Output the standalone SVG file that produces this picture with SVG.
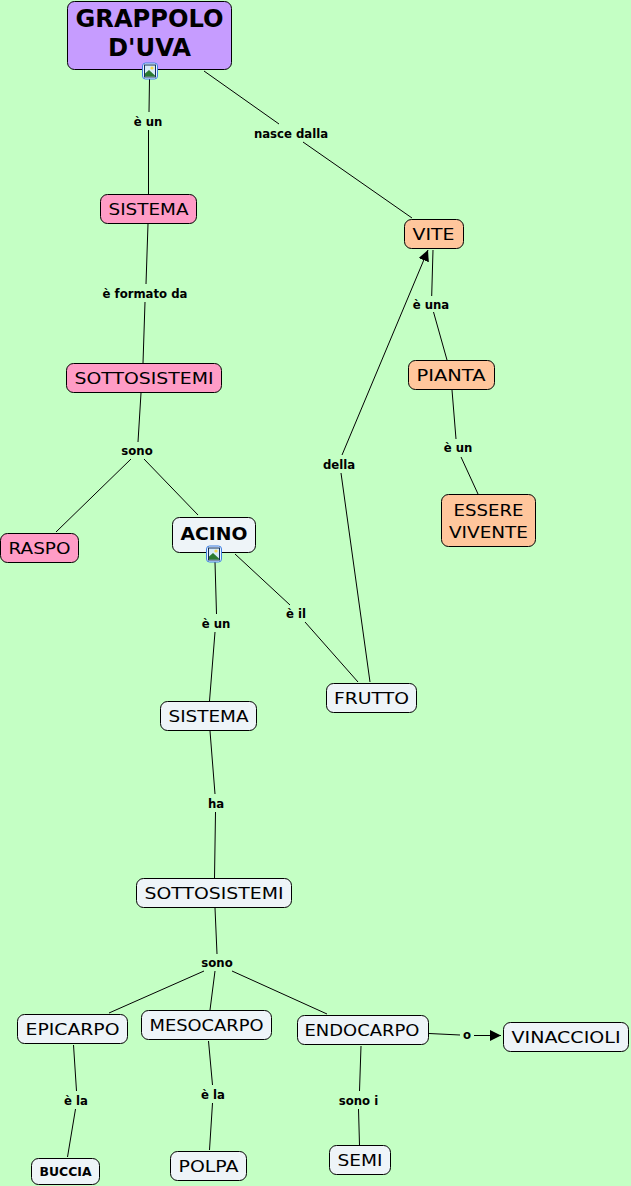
<svg xmlns="http://www.w3.org/2000/svg" width="631" height="1186" viewBox="0 0 631 1186">
<style>
text{font-family:"DejaVu Sans",Verdana,sans-serif;text-anchor:middle;fill:#000}
.n rect.b{stroke:#000;stroke-width:1}
.w{fill:#EEF4F8}.p{fill:#FF9CC6}.o{fill:#FFC69C}.v{fill:#C69CFF}
.t{font-size:16.500px}
.l{font-size:11.700px;font-weight:bold}
#connectors line{stroke:#000;stroke-width:1;fill:none}
</style>
<defs>
<marker id="arrow" markerUnits="userSpaceOnUse" markerWidth="13" markerHeight="13" refX="11" refY="5.500" orient="auto"><path d="M0 0L11 5.500L0 11Z" fill="#000"/></marker>
<g id="icon">
<rect x="0.500" y="0.500" width="15" height="16" rx="3" fill="#EAF3FF" stroke="#3C7FE0"/>
<rect x="2.500" y="2.500" width="11" height="12" fill="#D8ECF8" stroke="#12305A"/>
<circle cx="10" cy="5.500" r="1.600" fill="#F4D850"/>
<path d="M3 14L3 11L7 7.500L13 13L13 14Z" fill="#2A7A30"/>
</g>
</defs>
<rect width="631" height="1186" fill="#C4FFC4"/>
<g id="connectors">
<line x1="149.500" y1="79" x2="149" y2="112"/>
<line x1="148.500" y1="130" x2="148.500" y2="194"/>
<line x1="204" y1="71" x2="279" y2="124"/>
<line x1="303" y1="142" x2="412" y2="218"/>
<line x1="148" y1="224" x2="146" y2="284"/>
<line x1="145" y1="302" x2="143" y2="363"/>
<line x1="141" y1="393" x2="138" y2="442"/>
<line x1="131" y1="459" x2="56" y2="532"/>
<line x1="144" y1="459" x2="198" y2="515"/>
<line x1="215" y1="562" x2="216.500" y2="614"/>
<line x1="215" y1="632" x2="209.500" y2="701"/>
<line x1="235" y1="554" x2="290" y2="605"/>
<line x1="305" y1="622" x2="358" y2="682"/>
<line x1="370" y1="682" x2="341" y2="473"/>
<line x1="342" y1="455" x2="428" y2="250" marker-end="url(#arrow)"/>
<line x1="433" y1="250" x2="431.700" y2="296"/>
<line x1="433.500" y1="312" x2="447" y2="360"/>
<line x1="452" y1="390" x2="456" y2="439"/>
<line x1="461" y1="457" x2="478" y2="494"/>
<line x1="210" y1="731" x2="215" y2="794"/>
<line x1="215.500" y1="812" x2="214.500" y2="878"/>
<line x1="215" y1="908" x2="217" y2="954"/>
<line x1="204" y1="971" x2="109" y2="1013"/>
<line x1="215" y1="971" x2="210" y2="1010"/>
<line x1="232" y1="971" x2="327" y2="1014"/>
<line x1="73.500" y1="1045" x2="76.500" y2="1091"/>
<line x1="75.500" y1="1109" x2="67.500" y2="1157"/>
<line x1="208.500" y1="1041" x2="212.500" y2="1085"/>
<line x1="212.500" y1="1103" x2="209.500" y2="1150"/>
<line x1="361" y1="1046" x2="359.500" y2="1091"/>
<line x1="358.500" y1="1109" x2="359.500" y2="1145"/>
<line x1="429" y1="1033.500" x2="460" y2="1035"/>
<line x1="474" y1="1035.500" x2="501" y2="1035.500" marker-end="url(#arrow)"/>
</g>
<g id="n-grappolo" class="n"><rect class="b v" x="67.500" y="1.500" width="164" height="68" rx="7"/><text x="149.500" y="27" font-size="24" font-weight="bold" textLength="148" lengthAdjust="spacingAndGlyphs">GRAPPOLO</text><text x="149.500" y="56" font-size="24" font-weight="bold" textLength="83" lengthAdjust="spacingAndGlyphs">D'UVA</text><use href="#icon" x="142" y="62.500"/></g>
<g id="n-sistema1" class="n"><rect class="b p" x="100.500" y="194.500" width="96" height="29" rx="7"/><text class="t" x="148.500" y="215" textLength="80" lengthAdjust="spacingAndGlyphs">SISTEMA</text></g>
<g id="n-sottosistemi1" class="n"><rect class="b p" x="66.500" y="363.500" width="155" height="29" rx="7"/><text class="t" x="144" y="384" textLength="139" lengthAdjust="spacingAndGlyphs">SOTTOSISTEMI</text></g>
<g id="n-raspo" class="n"><rect class="b p" x="0.500" y="533.500" width="78" height="29" rx="7"/><text class="t" x="39.500" y="554" textLength="62" lengthAdjust="spacingAndGlyphs">RASPO</text></g>
<g id="n-acino" class="n"><rect class="b w" x="172.500" y="517.500" width="83" height="35" rx="7"/><text x="214" y="540" font-size="18" font-weight="bold" textLength="67" lengthAdjust="spacingAndGlyphs">ACINO</text><use href="#icon" x="206" y="545.500"/></g>
<g id="n-vite" class="n"><rect class="b o" x="404.500" y="219.500" width="59" height="29" rx="7"/><text class="t" x="433.500" y="240" textLength="42" lengthAdjust="spacingAndGlyphs">VITE</text></g>
<g id="n-pianta" class="n"><rect class="b o" x="408.500" y="360.500" width="86" height="29" rx="7"/><text class="t" x="451" y="381" textLength="69" lengthAdjust="spacingAndGlyphs">PIANTA</text></g>
<g id="n-essere" class="n"><rect class="b o" x="441.500" y="494.500" width="94" height="52" rx="7"/><text class="t" x="488.500" y="516" textLength="70" lengthAdjust="spacingAndGlyphs">ESSERE</text><text class="t" x="488.500" y="538" textLength="79" lengthAdjust="spacingAndGlyphs">VIVENTE</text></g>
<g id="n-frutto" class="n"><rect class="b w" x="326.500" y="683.500" width="90" height="29" rx="7"/><text class="t" x="371.500" y="704" textLength="75" lengthAdjust="spacingAndGlyphs">FRUTTO</text></g>
<g id="n-sistema2" class="n"><rect class="b w" x="160.500" y="701.500" width="96" height="29" rx="7"/><text class="t" x="208.500" y="722" textLength="80" lengthAdjust="spacingAndGlyphs">SISTEMA</text></g>
<g id="n-sottosistemi2" class="n"><rect class="b w" x="136.500" y="878.500" width="155" height="29" rx="7"/><text class="t" x="214" y="899" textLength="139" lengthAdjust="spacingAndGlyphs">SOTTOSISTEMI</text></g>
<g id="n-epicarpo" class="n"><rect class="b w" x="17.500" y="1014.500" width="110" height="29" rx="7"/><text class="t" x="72.500" y="1035" textLength="94" lengthAdjust="spacingAndGlyphs">EPICARPO</text></g>
<g id="n-mesocarpo" class="n"><rect class="b w" x="141.500" y="1010.500" width="130" height="29" rx="7"/><text class="t" x="206.500" y="1031" textLength="114" lengthAdjust="spacingAndGlyphs">MESOCARPO</text></g>
<g id="n-endocarpo" class="n"><rect class="b w" x="297.500" y="1015.500" width="131" height="29" rx="7"/><text class="t" x="362" y="1036" textLength="115" lengthAdjust="spacingAndGlyphs">ENDOCARPO</text></g>
<g id="n-vinaccioli" class="n"><rect class="b w" x="503.500" y="1022.500" width="125" height="29" rx="7"/><text class="t" x="566" y="1043" textLength="109" lengthAdjust="spacingAndGlyphs">VINACCIOLI</text></g>
<g id="n-buccia" class="n"><rect class="b w" x="31.500" y="1158.500" width="68" height="26" rx="7"/><text x="65.500" y="1176" font-size="12" font-weight="bold" textLength="52" lengthAdjust="spacingAndGlyphs">BUCCIA</text></g>
<g id="n-polpa" class="n"><rect class="b w" x="170.500" y="1151.500" width="76" height="29" rx="7"/><text class="t" x="208.500" y="1172" textLength="60" lengthAdjust="spacingAndGlyphs">POLPA</text></g>
<g id="n-semi" class="n"><rect class="b w" x="329.500" y="1145.500" width="61" height="29" rx="7"/><text class="t" x="360" y="1166" textLength="45" lengthAdjust="spacingAndGlyphs">SEMI</text></g>
<g id="labels">
<text class="l" x="148" y="126">è un</text>
<text class="l" x="291" y="138">nasce dalla</text>
<text class="l" x="145" y="298">è formato da</text>
<text class="l" x="137" y="455">sono</text>
<text class="l" x="431" y="309">è una</text>
<text class="l" x="458" y="452">è un</text>
<text class="l" x="339" y="469">della</text>
<text class="l" x="216" y="628">è un</text>
<text class="l" x="296" y="618">è il</text>
<text class="l" x="216" y="808">ha</text>
<text class="l" x="217" y="967">sono</text>
<text class="l" x="467" y="1039">o</text>
<text class="l" x="76" y="1105">è la</text>
<text class="l" x="213" y="1099">è la</text>
<text class="l" x="358.500" y="1105">sono i</text>
</g>
</svg>
